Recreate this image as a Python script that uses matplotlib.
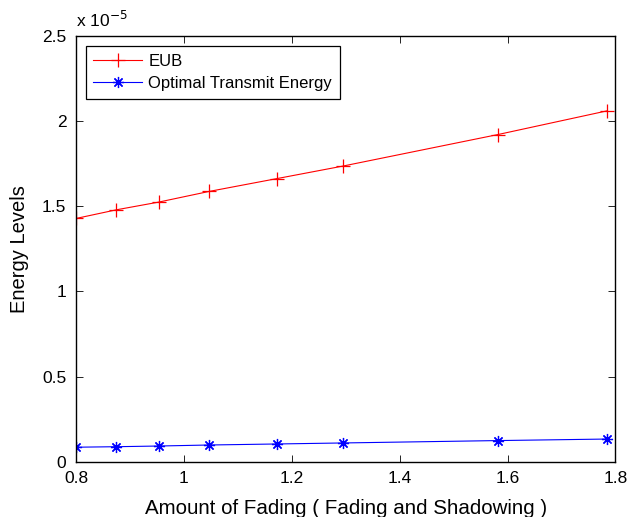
import numpy as np
from matplotlib import pyplot as plt
from matplotlib.ticker import FuncFormatter

plt.rcParams['font.family'] = ['Liberation Sans', 'DejaVu Sans']

# Amount of fading vs energy levels (values in joules)
fading = [0.8, 0.875, 0.953, 1.047, 1.172, 1.295, 1.582, 1.784]
eub = [1.429e-5, 1.480e-5, 1.525e-5, 1.588e-5, 1.663e-5, 1.737e-5, 1.922e-5, 2.061e-5]
opt_energy = [0.085e-5, 0.088e-5, 0.092e-5, 0.098e-5, 0.104e-5, 0.110e-5, 0.124e-5, 0.133e-5]

xticks = [0.8, 1.0, 1.2, 1.4, 1.6, 1.8]
yticks = [0, 0.5e-5, 1e-5, 1.5e-5, 2e-5, 2.5e-5]

fig = plt.figure(figsize=(6.28, 5.17), dpi=100)
ax = fig.add_axes([0.121, 0.107, 0.859, 0.823])

ax.plot(fading, eub, color="r", marker="+", markersize=10, markeredgewidth=0.9,
        linewidth=0.8, label="EUB")
ax.plot(fading, opt_energy, color="b", marker=(8, 2, 0), markersize=8, markeredgewidth=0.9,
        linewidth=0.8, label="Optimal Transmit Energy")

ax.set_xlim(0.8, 1.8)
ax.set_ylim(0, 2.5e-5)
ax.set_xticks(xticks)
ax.set_yticks(yticks)
ax.xaxis.set_major_formatter(FuncFormatter(lambda v, p: "%g" % round(v, 2)))
ax.yaxis.set_major_formatter(FuncFormatter(lambda v, p: "%g" % round(v / 1e-5, 2)))
ax.tick_params(direction="in", top=True, right=True, labelsize=12.5, length=5, width=0.6, pad=7)
for s in ax.spines.values():
    s.set_linewidth(1.0)

ax.text(0.0, 1.015, r"x 10$^{-5}$", transform=ax.transAxes, fontsize=12.5, va="bottom", ha="left")

ax.set_xlabel("Amount of Fading ( Fading and Shadowing )", fontsize=14.8, labelpad=9)
ax.set_ylabel("Energy Levels", fontsize=14.5, labelpad=9)

leg = ax.legend(loc="upper left", fontsize=12, fancybox=False, edgecolor="k",
                framealpha=1, borderaxespad=0.6, handlelength=2.9, borderpad=0.45,
                labelspacing=0.45, handletextpad=0.4)
leg.get_frame().set_linewidth(0.9)

fig.savefig("out.png", dpi=100)
